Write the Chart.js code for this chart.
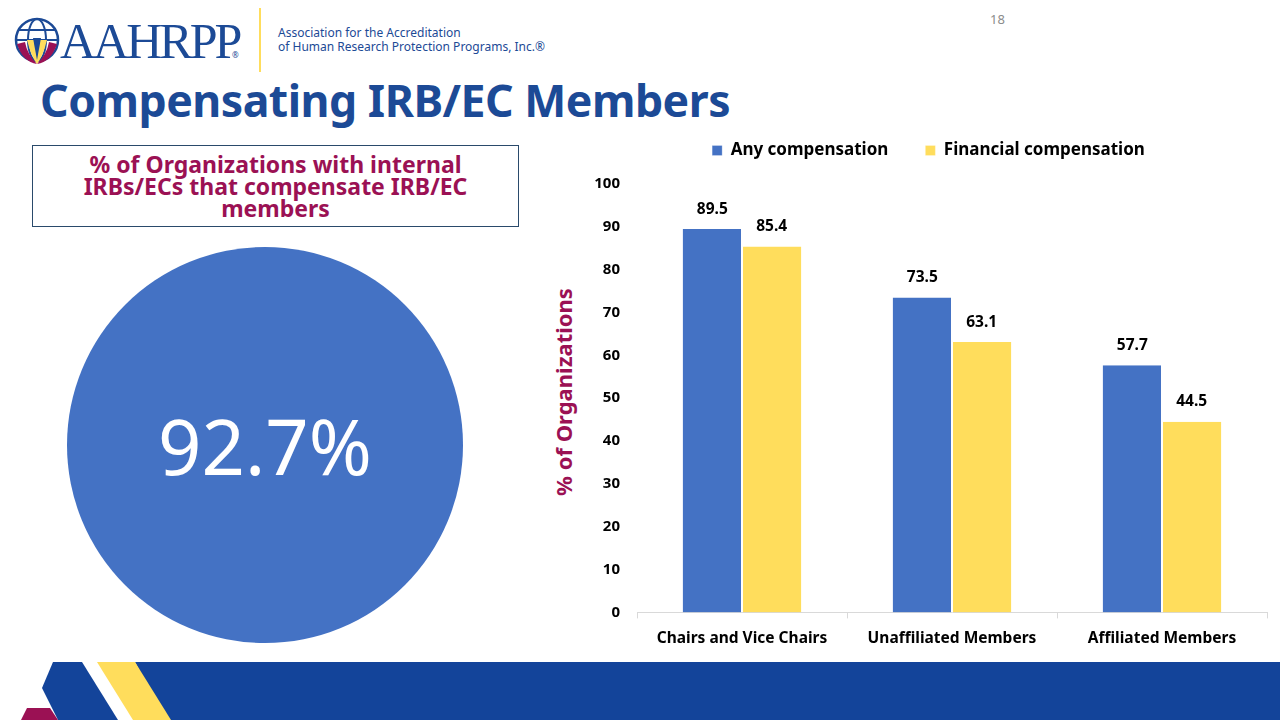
<!DOCTYPE html>
<html>
<head>
<meta charset="utf-8">
<script src="https://cdn.jsdelivr.net/npm/chart.js@4/dist/chart.umd.min.js"></script>
<style>
  body { margin: 0; width: 1280px; height: 720px; overflow: hidden; background: #fff; font-family: "Noto Sans", sans-serif; position: relative; }
  .abs { position: absolute; }
  #title { left: 40px; top: 69px; font-size: 44.6px; font-weight: bold; color: #1c4a96; letter-spacing: -0.5px; white-space: nowrap; }
  #pageNo { left: 990px; top: 10px; font-size: 13px; color: #8c8c8c; }
  #box { left: 32px; top: 145px; width: 485px; height: 80px; border: 1px solid #2a4a6b; text-align: center; }
  #box div { color: #9b1154; font-weight: bold; font-size: 23px; line-height: 22px; margin-top: 7px; }
  #circle { left: 67px; top: 247px; width: 396px; height: 396px; border-radius: 50%; background: #4472c4; color: #fff; font-size: 76px; display: flex; align-items: center; justify-content: center; }
  #yTitle { left: 563px; top: 392px; transform: translate(-50%, -50%) rotate(-90deg); color: #9b1154; font-weight: bold; font-size: 22px; white-space: nowrap; }
  #chartWrap { left: 590px; top: 103px; width: 690px; height: 557px; }
</style>
</head>
<body>
<!-- logo -->
<svg class="abs" style="left:0;top:0" width="560" height="80">
  <g transform="translate(37,40)">
    <circle r="21" fill="none" stroke="#1c4a96" stroke-width="2.5"/>
    <ellipse rx="9" ry="21" fill="none" stroke="#1c4a96" stroke-width="2"/>
    <line x1="-21" y1="0" x2="21" y2="0" stroke="#1c4a96" stroke-width="2"/>
    <line x1="-18" y1="-10" x2="18" y2="-10" stroke="#1c4a96" stroke-width="2"/>
    <path d="M-20,4 Q-14,22 0,24 Q-10,14 -12,2 Z" fill="#9b1154"/>
    <path d="M20,4 Q14,22 0,24 Q10,14 12,2 Z" fill="#9b1154"/>
    <path d="M-10,0 Q-6,16 0,24 Q6,16 10,0 Z" fill="#ffdd5c"/>
    <path d="M-4,-2 L4,-2 L0,20 Z" fill="#1c4a96"/>
  </g>
  <text x="60" y="58" font-family="Liberation Serif, serif" font-size="50" fill="#1c4a96" letter-spacing="-3">AAHRPP</text>
  <text x="232" y="58" font-family="Noto Sans" font-size="8" fill="#1c4a96">®</text>
  <line x1="260" y1="8" x2="260" y2="72" stroke="#ffdd5c" stroke-width="2"/>
  <text x="278" y="37" font-family="Noto Sans" font-size="12" fill="#1c4a96">Association for the Accreditation</text>
  <text x="278" y="51" font-family="Noto Sans" font-size="12" fill="#1c4a96">of Human Research Protection Programs, Inc.®</text>
</svg>
<div id="pageNo" class="abs">18</div>
<div id="title" class="abs">Compensating IRB/EC Members</div>
<div id="box" class="abs"><div>% of Organizations with internal<br>IRBs/ECs that compensate IRB/EC<br>members</div></div>
<div id="circle" class="abs">92.7%</div>
<div id="yTitle" class="abs">% of Organizations</div>
<div id="chartWrap" class="abs"><canvas id="barChart"></canvas></div>
<!-- bottom band -->
<svg class="abs" style="left:0;top:660px" width="1280" height="60">
  <polygon points="135,2 1280,2 1280,60 165,60" fill="#13449a"/>
  <polygon points="53,2 82,2 118,60 58,60 42,28" fill="#13449a"/>
  <polygon points="97,2 135,2 171,60 133,60" fill="#ffdd5c"/>
  <polygon points="27,48 50,48 58,60 21,60" fill="#9b1154"/>
</svg>
<script>
// Chart data
const categories = ['Chairs and Vice Chairs', 'Unaffiliated Members', 'Affiliated Members'];
const anyComp = [89.5, 73.5, 57.7];
const financialComp = [85.4, 63.1, 44.5];
const yTicks = [0, 10, 20, 30, 40, 50, 60, 70, 80, 90, 100];

const fontFamily = '"Noto Sans", sans-serif';

// Simple value labels above each bar
const valueLabels = {
    id: 'valueLabels',
    afterDatasetsDraw(chart) {
        const ctx = chart.ctx;
        ctx.save();
        ctx.font = 'bold 15.5px ' + fontFamily;
        ctx.fillStyle = '#000';
        ctx.textAlign = 'center';
        ctx.textBaseline = 'bottom';
        chart.data.datasets.forEach((ds, i) => {
            chart.getDatasetMeta(i).data.forEach((bar, j) => {
                ctx.fillText(ds.data[j].toFixed(1), bar.x, bar.y - 12);
            });
        });
        ctx.restore();
    }
};

// Tweak room under the legend
const legendGap = {
    id: 'legendGap',
    beforeInit(chart) {
        const fit = chart.legend.fit;
        chart.legend.fit = function () {
            fit.bind(chart.legend)();
            this.height += 15;
        };
    }
};

const barCtx = document.getElementById('barChart').getContext('2d');
new Chart(barCtx, {
    type: 'bar',
    data: {
        labels: categories,
        datasets: [{
            label: 'Any compensation',
            data: anyComp,
            backgroundColor: '#4472c4',
            borderColor: '#ffffff',
            borderWidth: { left: 0, right: 1, top: 0, bottom: 0 },
            borderSkipped: false
        }, {
            label: 'Financial compensation',
            data: financialComp,
            backgroundColor: '#ffdd5c',
            borderColor: '#ffffff',
            borderWidth: { left: 1, right: 0, top: 0, bottom: 0 },
            borderSkipped: false
        }]
    },
    options: {
        responsive: true,
        maintainAspectRatio: false,
        animation: false,
        categoryPercentage: 0.565,
        barPercentage: 1,
        layout: { padding: { left: 0, right: 13, top: 2, bottom: 1 } },
        scales: {
            x: {
                grid: { display: true, drawOnChartArea: false, offset: true, color: '#d9d9d9', tickLength: 6 },
                border: { display: true, color: '#d9d9d9' },
                ticks: { color: '#000', font: { family: fontFamily, size: 15.5, weight: 'bold' }, padding: 11, maxRotation: 0 }
            },
            y: {
                min: 0,
                max: 100,
                afterBuildTicks: axis => { axis.ticks = yTicks.map(v => ({ value: v })); },
                afterFit: axis => { axis.width = 47; },
                grid: { display: false, drawTicks: false },
                border: { display: false },
                ticks: { color: '#000', font: { family: fontFamily, size: 15, weight: 'bold' }, padding: 17 }
            }
        },
        plugins: {
            legend: {
                position: 'top',
                labels: {
                    color: '#000',
                    font: { family: fontFamily, size: 17, weight: 'bold' },
                    boxWidth: 10,
                    boxHeight: 10,
                    padding: 37
                }
            },
            tooltip: { enabled: false }
        }
    },
    plugins: [valueLabels, legendGap]
});
</script>
</body>
</html>
